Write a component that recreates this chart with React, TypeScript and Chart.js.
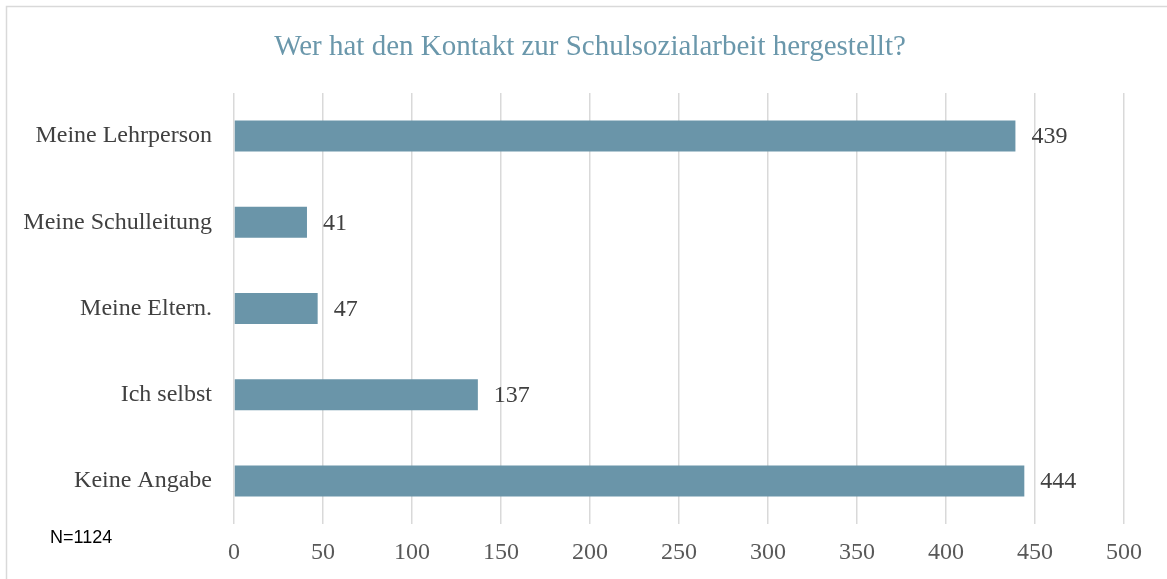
import React, { useEffect, useRef } from "react";
import { Chart, registerables } from "chart.js";

Chart.register(...registerables);

const categories = [
  "Meine Lehrperson",
  "Meine Schulleitung",
  "Meine Eltern.",
  "Ich selbst",
  "Keine Angabe",
];
const counts = [439, 41, 47, 137, 444];
const titleText = "Wer hat den Kontakt zur Schulsozialarbeit hergestellt?";
const noteText = "N=1124";

const SERIF = '"Liberation Serif", "Times New Roman", serif';

const framePlugin = {
  id: "frame",
  beforeDraw(chart: any) {
    const ctx = chart.ctx;
    ctx.save();
    ctx.strokeStyle = "#d9d9d9";
    ctx.lineWidth = 1.5;
    ctx.beginPath();
    ctx.moveTo(6.5, chart.height + 5);
    ctx.lineTo(6.5, 6.5);
    ctx.lineTo(chart.width + 5, 6.5);
    ctx.stroke();
    ctx.restore();
  },
  afterDraw(chart: any) {
    const ctx = chart.ctx;
    ctx.save();
    ctx.fillStyle = "#6a97ab";
    ctx.font = `29px ${SERIF}`;
    ctx.textAlign = "center";
    ctx.textBaseline = "middle";
    ctx.fillText(titleText, 590, 47);
    ctx.fillStyle = "#000000";
    ctx.font = '18px "Liberation Sans", Arial, sans-serif';
    ctx.textAlign = "left";
    ctx.fillText(noteText, 50, 538);
    ctx.restore();
  },
};

const valueLabelPlugin = {
  id: "valueLabels",
  afterDatasetsDraw(chart: any) {
    const ctx = chart.ctx;
    const meta = chart.getDatasetMeta(0);
    ctx.save();
    ctx.fillStyle = "#404040";
    ctx.font = `24px ${SERIF}`;
    ctx.textAlign = "left";
    ctx.textBaseline = "middle";
    meta.data.forEach((bar: any, i: number) => {
      ctx.fillText(String(counts[i]), bar.x + 16, bar.y + 1);
    });
    ctx.restore();
  },
};

export default function App() {
  const ref = useRef<HTMLCanvasElement | null>(null);

  useEffect(() => {
    if (!ref.current) return;
    const chart = new Chart(ref.current, {
      type: "bar",
      data: {
        labels: categories,
        datasets: [
          {
            data: counts,
            backgroundColor: "#6a95a9",
            barPercentage: 0.36,
            categoryPercentage: 1,
          },
        ],
      },
      options: {
        indexAxis: "y",
        animation: false,
        responsive: false,
        maintainAspectRatio: false,
        layout: { padding: { left: 0, right: 43, top: 93, bottom: 0 } },
        plugins: {
          legend: { display: false },
          tooltip: { enabled: false },
          title: { display: false },
        },
        scales: {
          x: {
            min: 0,
            max: 500,
            ticks: {
              stepSize: 50,
              color: "#595959",
              font: { family: SERIF, size: 24 },
              padding: 14,
            },
            grid: { color: "#d9d9d9", lineWidth: 1.5, drawTicks: false },
            border: { display: false },
            afterFit(scale: any) {
              scale.height = 55;
            },
          },
          y: {
            ticks: {
              color: "#404040",
              font: { family: SERIF, size: 24 },
              padding: 22,
            },
            grid: { display: false, drawTicks: false },
            border: { display: false },
            afterFit(scale: any) {
              scale.width = 234;
            },
          },
        },
      },
      plugins: [framePlugin, valueLabelPlugin],
    });
    return () => chart.destroy();
  }, []);

  return (
    <div style={{ position: "fixed", left: 0, top: 0, width: 1167, height: 579, background: "#fff" }}>
      <canvas ref={ref} width={1167} height={579} style={{ width: 1167, height: 579 }} />
    </div>
  );
}
